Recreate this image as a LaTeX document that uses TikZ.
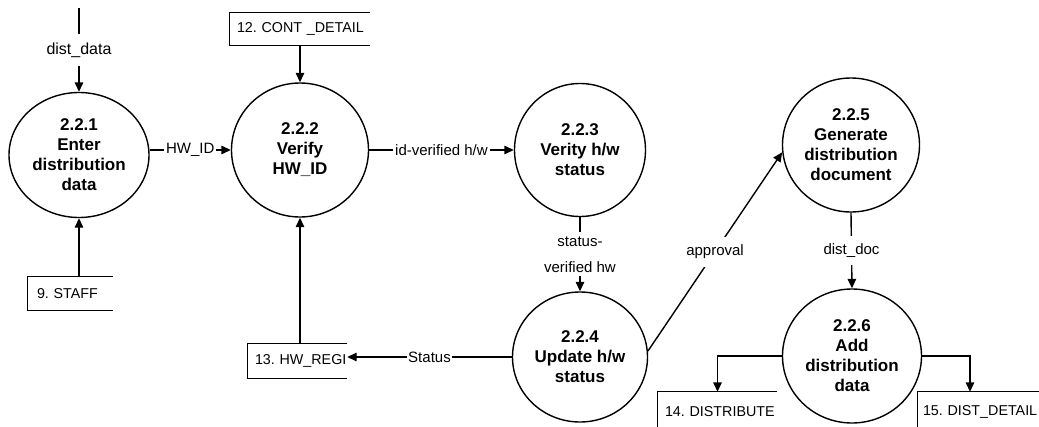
\documentclass[tikz,border=0pt]{standalone}
\usepackage{fontspec}
\setmainfont{Liberation Sans}
\frenchspacing
\usetikzlibrary{arrows.meta,shapes.geometric,calc}
\begin{document}
\begin{tikzpicture}[x=1pt,y=-1pt,
  proc/.style={ellipse,draw,line width=1.4pt,inner sep=0pt,align=center,
    font=\fontsize{17}{20}\selectfont\bfseries},
  store/.style={inner xsep=7pt,inner ysep=0pt,align=left,
    font=\fontsize{14.3}{16}\selectfont\frenchspacing},
  storeline/.style={line width=1.3pt},
  flow/.style={line width=1.4pt,-{Triangle[length=9.5pt,width=8.5pt]}},
  lbl/.style={fill=white,font=\fontsize{15}{17}\selectfont,inner xsep=2pt,inner ysep=8pt}
]
\useasboundingbox (0,0) rectangle (1039,426);

% processes
\node[proc,minimum width=140pt,minimum height=125pt] (p1) at (79,155) {2.2.1\\Enter\\distribution\\data};
\node[proc,minimum width=137pt,minimum height=134pt] (p2) at (300,150) {2.2.2\\Verify\\HW\_ID};
\node[proc,minimum width=131pt,minimum height=133pt] (p3) at (580,150) {2.2.3\\Verity h/w\\status};
\node[proc,minimum width=135pt,minimum height=130pt] (p4) at (580,357) {2.2.4\\Update h/w\\status};
\node[proc,minimum width=137pt,minimum height=134pt] (p5) at (851,145) {2.2.5\\Generate\\distribution\\document};
\node[proc,minimum width=139pt,minimum height=134pt] (p6) at (852,356) {2.2.6\\Add\\distribution\\data};

% data stores (open on the right)
\node[store,text width=126pt,minimum height=32pt] (s12) at (300,29) {\mbox{12. CONT \_DETAIL}};
\node[store,text width=67pt,inner xsep=9pt,minimum height=33pt] (s9) at (70.5,293.5) {\mbox{9. STAFF}};
\node[store,text width=85pt,minimum height=34pt] (s13) at (297.5,361) {\mbox{13. HW\_REGI}};
\node[store,text width=105pt,minimum height=40pt] (s14) at (717.5,412) {\mbox{14. DISTRIBUTE}};
\node[store,text width=111pt,inner xsep=5pt,minimum height=40pt] (s15) at (978.5,412) {\mbox{15. DIST\_DETAIL}};
\foreach \s in {s12,s9,s13,s14,s15}
  \draw[storeline] (\s.north east) -- (\s.north west) -- (\s.south west) -- (\s.south east);

% external source of dist_data
\coordinate (ext) at (79,8);

% flows
\draw[flow] (ext) -- node[lbl,inner ysep=9pt,font=\fontsize{16}{18}\selectfont]{dist\_data} (p1.north);
\draw[flow] (p1.east |- p2.west) -- node[lbl]{HW\_ID} (p2.west);
\draw[flow] (p2.east) -- node[lbl]{id-verified h/w} (p3.west);
\draw[flow] (p3.south) -- node[lbl,align=center,inner ysep=4pt,font=\fontsize{15}{26}\selectfont]{status-\\verified hw} (p4.north);
\draw[flow] (s9.north -| p1.south) -- (p1.south);
\draw[flow] (s12.south -| p2.north) -- (p2.north);
\draw[flow] (s13.north -| p2.south) -- (p2.south);
\draw[flow] (p4.west) -- node[lbl,inner xsep=1pt]{Status} (p4.west -| s13.east);
\draw[flow] (p4.5) -- node[lbl]{approval} (p5.186);
\draw[flow] (p5.south) -- node[lbl]{dist\_doc} (p6.north);
\draw[flow] (p6.west) -| (s14.north);
\draw[flow] (p6.east) -| ([xshift=-8.5pt]s15.north);
\end{tikzpicture}
\end{document}
